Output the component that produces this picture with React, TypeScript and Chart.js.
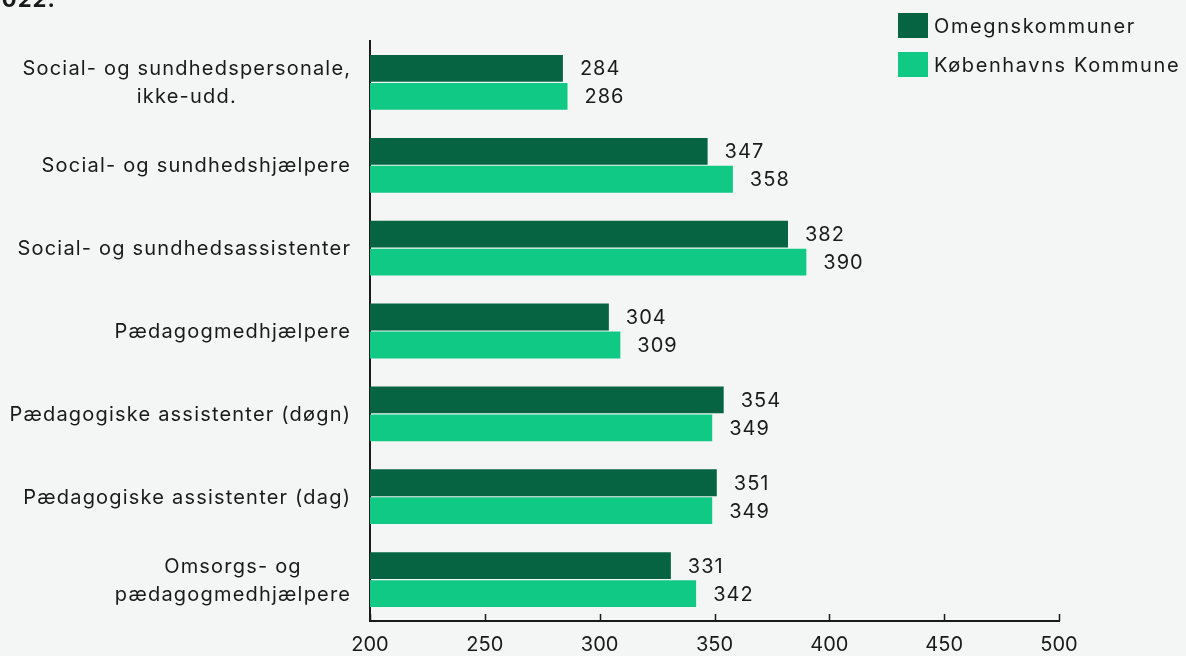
import React, { useEffect, useRef } from "react";
import { Chart, registerables } from "chart.js";

Chart.register(...registerables);

const categories: (string | string[])[] = [
  ["Social- og sundhedspersonale,", "ikke-udd."],
  "Social- og sundhedshjælpere",
  "Social- og sundhedsassistenter",
  "Pædagogmedhjælpere",
  "Pædagogiske assistenter (døgn)",
  "Pædagogiske assistenter (dag)",
  ["Omsorgs- og", "pædagogmedhjælpere"],
];
const seriesNames = ["Omegnskommuner", "Københavns Kommune"];
const omegnValues = [284, 347, 382, 304, 354, 351, 331];
const kkValues = [286, 358, 390, 309, 349, 349, 342];
const xTicks = [200, 250, 300, 350, 400, 450, 500];
const seriesColors = ["#066443", "#10c985"];
const titleText = "2022.";

const FONT = "Inter, 'Noto Sans', sans-serif";
const TEXT = "#1a1a1a";
const BG = "#f3f6f5";
const LS = 1.2;

export default function App() {
  const ref = useRef<HTMLCanvasElement>(null);

  useEffect(() => {
    document.body.style.margin = "0";
    const canvas = ref.current;
    if (!canvas) return;

    const valueLabels = {
      id: "valueLabels",
      afterDatasetsDraw(chart: any) {
        const ctx = chart.ctx;
        ctx.save();
        ctx.font = `20px ${FONT}`;
        (ctx as any).letterSpacing = "1px";
        ctx.fillStyle = TEXT;
        ctx.textBaseline = "middle";
        ctx.textAlign = "left";
        chart.data.datasets.forEach((ds: any, i: number) => {
          const meta = chart.getDatasetMeta(i);
          meta.data.forEach((bar: any, j: number) => {
            ctx.fillText(String(ds.data[j]), bar.x + 17, bar.y + 1);
          });
        });
        ctx.restore();
      },
    };

    const customAxes = {
      id: "customAxes",
      afterDraw(chart: any) {
        const ctx = chart.ctx;
        const xs = chart.scales.x;
        const ys = chart.scales.y;
        ctx.save();
        // inner tick marks on x axis
        ctx.strokeStyle = TEXT;
        ctx.lineWidth = 1.5;
        xs.ticks.forEach((t: any) => {
          const px = Math.round(xs.getPixelForValue(t.value)) + 0.5;
          ctx.beginPath();
          ctx.moveTo(px, xs.top);
          ctx.lineTo(px, xs.top - 7);
          ctx.stroke();
        });
        // y labels: block right-aligned, lines centered
        ctx.font = `20px ${FONT}`;
        (ctx as any).letterSpacing = `${LS}px`;
        ctx.fillStyle = TEXT;
        ctx.textBaseline = "middle";
        ctx.textAlign = "center";
        const lh = 28;
        categories.forEach((lab, i) => {
          const lines = Array.isArray(lab) ? lab : [lab];
          const maxW = Math.max(...lines.map((l) => ctx.measureText(l).width));
          const cx = ys.right - 20 + LS - maxW / 2;
          const cy = ys.getPixelForTick(i);
          const y0 = cy - ((lines.length - 1) * lh) / 2;
          lines.forEach((l, k) => ctx.fillText(l, cx, y0 + k * lh + 1));
        });
        ctx.restore();
      },
    };

    const chart = new Chart(canvas, {
      type: "bar",
      data: {
        labels: categories as any,
        datasets: [
          {
            label: seriesNames[0],
            data: omegnValues,
            backgroundColor: seriesColors[0],
            base: 200,
            barPercentage: 0.96,
            categoryPercentage: 0.675,
          } as any,
          {
            label: seriesNames[1],
            data: kkValues,
            backgroundColor: seriesColors[1],
            base: 200,
            barPercentage: 0.96,
            categoryPercentage: 0.675,
          } as any,
        ],
      },
      options: {
        indexAxis: "y",
        animation: false,
        responsive: false,
        maintainAspectRatio: false,
        devicePixelRatio: 1,
        layout: { padding: { top: 41, right: 127, left: 0, bottom: 0 } },
        plugins: {
          legend: { display: false },
          tooltip: { enabled: false },
          title: { display: false },
        },
        scales: {
          x: {
            type: "linear",
            min: 200,
            max: 500,
            afterBuildTicks: (scale: any) => {
              scale.ticks = xTicks.map((v) => ({ value: v }));
            },
            afterFit: (scale: any) => {
              scale.height = 35;
            },
            grid: { display: false, drawTicks: false },
            border: { display: true, color: TEXT, width: 2 },
            ticks: {
              font: { family: FONT, size: 20 },
              color: TEXT,
              padding: 12,
              maxRotation: 0,
            },
          },
          y: {
            afterFit: (scale: any) => {
              scale.width = 370;
            },
            grid: { display: false, drawTicks: false },
            border: { display: true, color: TEXT, width: 2 },
            ticks: { display: false },
          },
        },
      },
      plugins: [valueLabels, customAxes],
    });
    return () => chart.destroy();
  }, []);

  return (
    <div
      style={{
        position: "fixed",
        left: 0,
        top: 0,
        width: 1186,
        height: 656,
        background: BG,
        overflow: "hidden",
        fontFamily: FONT,
        color: TEXT,
      }}
    >
      <canvas ref={ref} width={1186} height={656} style={{ position: "absolute", left: 0, top: 0 }} />
      <div
        style={{
          position: "absolute",
          left: -13,
          top: -16,
          fontSize: 22,
          fontWeight: 700,
          lineHeight: "30px",
          letterSpacing: "1px",
          whiteSpace: "nowrap",
        }}
      >
        {titleText}
      </div>
      {seriesNames.map((name, i) => (
        <div
          key={name}
          style={{
            position: "absolute",
            left: 898,
            top: 13 + i * 39,
            height: 25,
            display: "flex",
            alignItems: "center",
            whiteSpace: "nowrap",
            fontSize: 20,
            letterSpacing: "1.6px",
          }}
        >
          <span
            style={{
              display: "inline-block",
              width: 30,
              height: 25,
              background: seriesColors[i],
              marginRight: 6,
            }}
          />
          <span>{name}</span>
        </div>
      ))}
    </div>
  );
}
